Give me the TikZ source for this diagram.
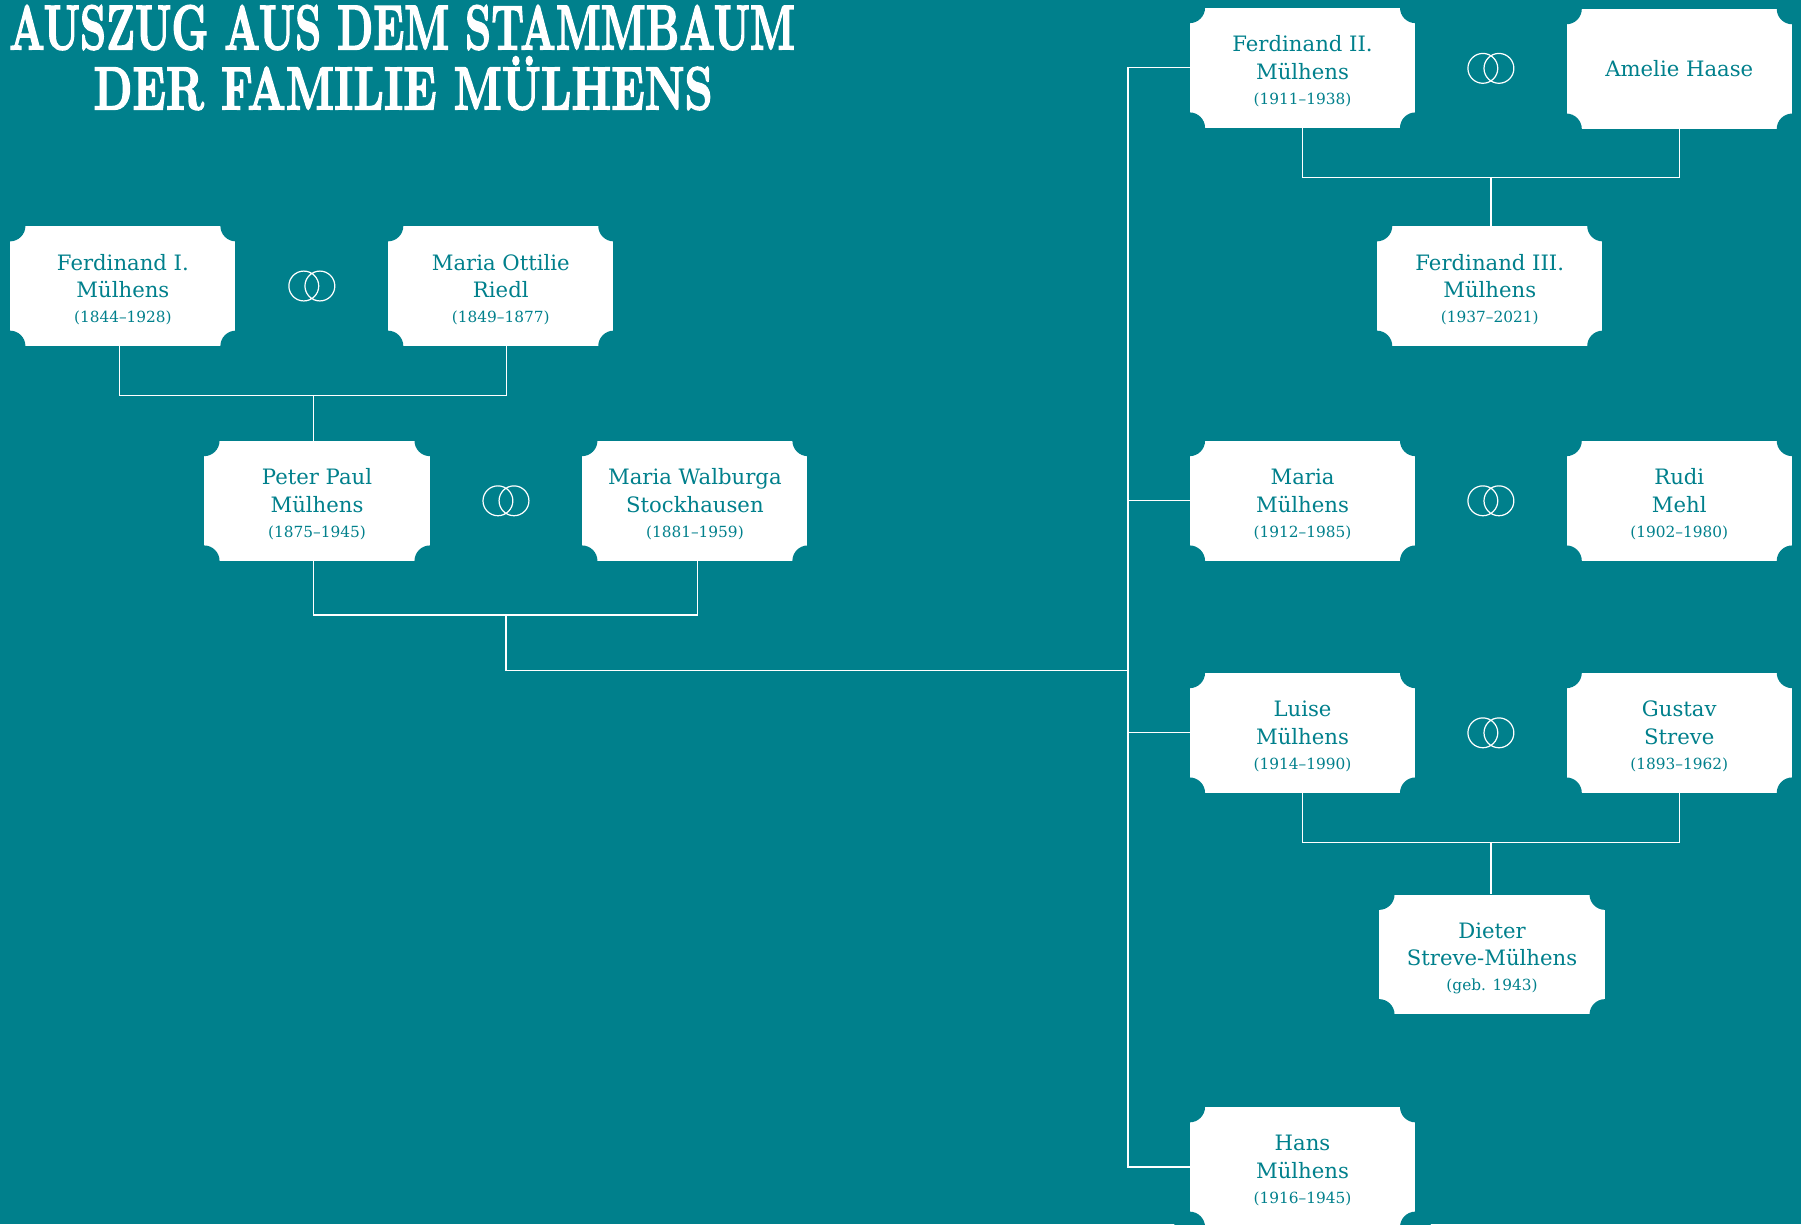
\documentclass[tikz,border=0pt]{standalone}
\usepackage{fontspec}
\usepackage{graphicx}
\usetikzlibrary{calc}
\newfontfamily\boxfont{DejaVu Serif}
\newfontfamily\titlefont{lmroman10-bold.otf}[FakeBold=2.5]
\definecolor{famteal}{RGB}{0,128,140}
\tikzset{
  person/.style={fill=white,text=famteal,minimum width=39.2mm,minimum height=20.8mm,
    inner sep=0pt,align=center,font=\boxfont\fontsize{10.5}{13.6}\selectfont},
  notch/.style={fill=famteal},
  link/.style={draw=white,line width=0.6pt},
  rings/.pic={\draw[white,line width=0.6pt] (-1.4mm,0) circle[radius=2.6mm] (1.4mm,0) circle[radius=2.6mm];}
}
\newcommand\pers[3]{\rule{0pt}{4.1mm}#1\\#2\\[-1.1pt]{\fontsize{7.6}{9}\selectfont #3}\rule[-0.5mm]{0pt}{0.5mm}}
\begin{document}
\begin{tikzpicture}[x=0.2mm,y=-0.2mm]
  \useasboundingbox (0,0) rectangle (1568,1066);
  \fill[famteal] (0,0) rectangle (1568,1066);
  \node[text=white,inner sep=0pt] (title1) at (350,24)
    {\resizebox{136.8mm}{7.7mm}{\titlefont AUSZUG AUS DEM STAMMBAUM}};
  \node[text=white,inner sep=0pt] (title2) at (351,77)
    {\resizebox{107.8mm}{7.4mm}{\titlefont DER FAMILIE M\smash{Ü}LHENS}};

  \node[person] (ferdI) at (107,249) {\pers{Ferdinand I.}{Mülhens}{(1844–1928)}};
  \node[person] (ottilie) at (436,249) {\pers{Maria Ottilie}{Riedl}{(1849–1877)}};
  \node[person] (peter) at (276,436) {\pers{Peter Paul}{Mülhens}{(1875–1945)}};
  \node[person] (walburga) at (605,436) {\pers{Maria Walburga}{Stockhausen}{(1881–1959)}};
  \node[person] (ferdII) at (1134,59) {\pers{Ferdinand II.}{Mülhens}{(1911–1938)}};
  \node[person] (amelie) at (1462,60) {Amelie Haase};
  \node[person] (ferdIII) at (1297,249) {\pers{Ferdinand III.}{Mülhens}{(1937–2021)}};
  \node[person] (maria) at (1134,436) {\pers{Maria}{Mülhens}{(1912–1985)}};
  \node[person] (rudi) at (1462,436) {\pers{Rudi}{Mehl}{(1902–1980)}};
  \node[person] (luise) at (1134,638) {\pers{Luise}{Mülhens}{(1914–1990)}};
  \node[person] (gustav) at (1462,638) {\pers{Gustav}{Streve}{(1893–1962)}};
  \node[person] (dieter) at (1299,831) {\pers{Dieter}{Streve-Mülhens}{(geb. 1943)}};
  \node[person] (hans) at (1134,1016) {\pers{Hans}{Mülhens}{(1916–1945)}};

  \foreach \p in {ferdI,ottilie,peter,walburga,ferdII,amelie,ferdIII,maria,rudi,luise,gustav,dieter,hans}
    \foreach \c in {north west,north east,south west,south east}
      \fill[notch] (\p.\c) circle[radius=2.7mm];

  \pic at ($(ferdI)!0.5!(ottilie)$) {rings};
  \pic at ($(peter)!0.5!(walburga)$) {rings};
  \pic at ($(ferdII)!0.5!(amelie)$) {rings};
  \pic at ($(maria)!0.5!(rudi)$) {rings};
  \pic at ($(luise)!0.5!(gustav)$) {rings};

  \coordinate (c1) at ($(peter.north)+(-3,-39)$);
  \draw[link] (ferdI.south) ++(-3,0) |- (c1) -| ($(ottilie.south)+(5,0)$);
  \draw[link] (c1) -- (c1 |- peter.north);
  \coordinate (c2) at ($(peter.south)!0.5!(walburga.south)+(0,47)$);
  \draw[link] (peter.south) ++(-3,0) |- (c2) -| ($(walburga.south)+(2,0)$);
  \coordinate (trunk) at (982,584);
  \draw[link] (c2) |- (trunk);
  \draw[link] (ferdII.west) -- (ferdII.west -| trunk) -- (hans.west -| trunk) -- (hans.west);
  \draw[link] (maria.west -| trunk) -- (maria.west);
  \draw[link] (luise.west -| trunk) -- (luise.west);
  \coordinate (c3) at ($(ferdII.south)!0.5!(amelie.south)+(0,43)$);
  \draw[link] (ferdII.south) |- (c3) -| (amelie.south);
  \draw[link] (c3) -- (c3 |- ferdIII.north);
  \coordinate (c4) at ($(luise.south)!0.5!(gustav.south)+(0,43)$);
  \draw[link] (luise.south) |- (c4) -| (gustav.south);
  \draw[link] (c4) -- (c4 |- dieter.north);
\end{tikzpicture}
\end{document}
